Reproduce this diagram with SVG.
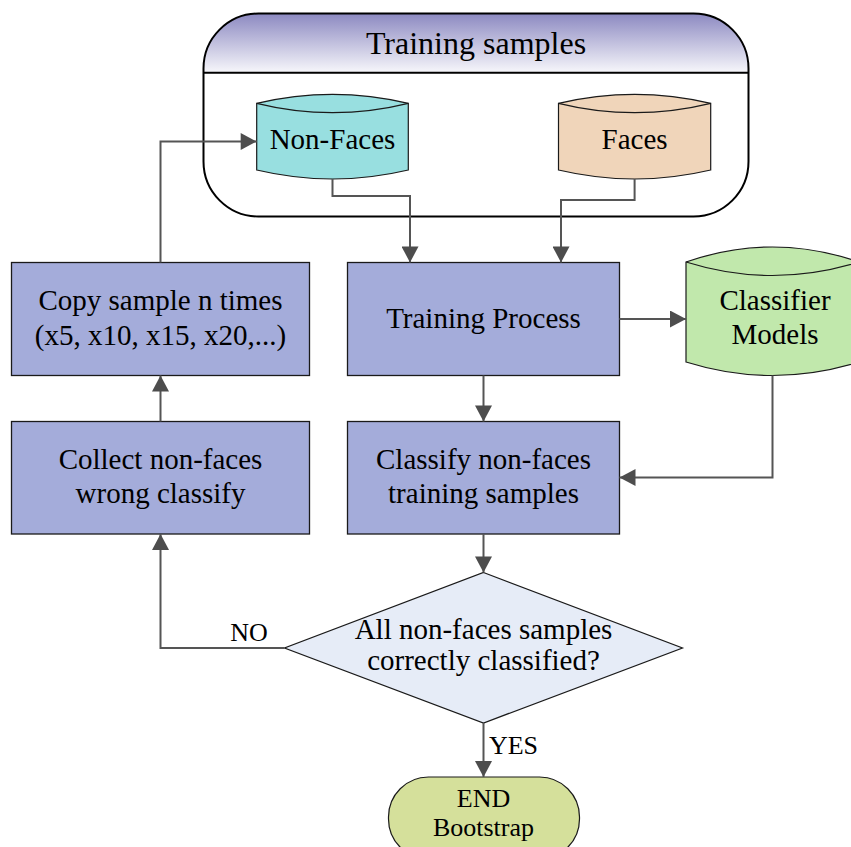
<svg xmlns="http://www.w3.org/2000/svg" width="851" height="847" viewBox="0 0 851 847">
<defs>
  <linearGradient id="hdr" x1="0" y1="0" x2="0" y2="1">
    <stop offset="0" stop-color="#8c89c1"/>
    <stop offset="1" stop-color="#f7f7fb"/>
  </linearGradient>
  <marker id="arr" markerUnits="userSpaceOnUse" markerWidth="17" markerHeight="17" viewBox="0 0 16 17" refX="16" refY="8.5" orient="auto">
    <path d="M0,0 L16,8.5 L0,17 Z" fill="#4d4d4d"/>
  </marker>
</defs>
<style>
  text { font-family: "Liberation Serif", "Times New Roman", serif; fill: #000; text-anchor: middle; }
  .t29 { font-size: 29px; }
  .t26 { font-size: 26px; }
  .box { fill: #a4acda; stroke: #1a1a1a; stroke-width: 1.3; }
  .shape { stroke: #1a1a1a; stroke-width: 1.2; }
  .edge { fill: none; stroke: #555555; stroke-width: 2; marker-end: url(#arr); }
</style>
<rect width="851" height="847" fill="#ffffff"/>

<g id="training-samples">
  <path d="M203.5,72.7 V68.5 A55,55 0 0 1 258.5,13.5 H693.5 A55,55 0 0 1 748.5,68.5 V72.7 Z" fill="url(#hdr)"/>
  <rect x="203.5" y="13.5" width="545" height="203" rx="55" ry="55" fill="none" stroke="#000" stroke-width="2"/>
  <line x1="203.5" y1="72.7" x2="748.5" y2="72.7" stroke="#000" stroke-width="2"/>
  <text x="476" y="54" style="font-size:32px">Training samples</text>
</g>

<g id="non-faces">
  <path class="shape" fill="#98dfe0" d="M256.7,103.3 Q332.5,85.3 408.3,103.3 V170 Q332.5,188 256.7,170 Z"/>
  <path class="shape" fill="none" d="M256.7,103.3 Q332.5,122 408.3,103.3"/>
  <text class="t29" x="332.5" y="149">Non-Faces</text>
</g>

<g id="faces">
  <path class="shape" fill="#f0d5ba" d="M558.5,103.3 Q634.6,85.3 710.7,103.3 V170 Q634.6,188 558.5,170 Z"/>
  <path class="shape" fill="none" d="M558.5,103.3 Q634.6,122 710.7,103.3"/>
  <text class="t29" x="634.6" y="149">Faces</text>
</g>

<g id="copy-sample">
  <rect class="box" x="11.5" y="262.5" width="298" height="113"/>
  <text class="t29" x="160.5" y="310">Copy sample n times</text>
  <text class="t29" x="160.5" y="345">(x5, x10, x15, x20,...)</text>
</g>

<g id="training-process">
  <rect class="box" x="347.5" y="262.5" width="272" height="113"/>
  <text class="t29" x="483.5" y="328">Training Process</text>
</g>

<g id="classifier-models">
  <path class="shape" fill="#c1e8ac" d="M686,262 Q772.5,232 859,262 V362 Q772.5,389 686,362 Z"/>
  <path class="shape" fill="none" d="M686,262 Q772.5,289 859,262"/>
  <text class="t29" x="775" y="310">Classifier</text>
  <text class="t29" x="775" y="344">Models</text>
</g>

<g id="collect-non-faces">
  <rect class="box" x="11.5" y="421.5" width="298" height="112.5"/>
  <text class="t29" x="160.5" y="469">Collect non-faces</text>
  <text class="t29" x="160.5" y="503">wrong classify</text>
</g>

<g id="classify-non-faces">
  <rect class="box" x="347.5" y="421.5" width="272" height="112.5"/>
  <text class="t29" x="483.5" y="469">Classify non-faces</text>
  <text class="t29" x="483.5" y="503">training samples</text>
</g>

<g id="decision">
  <path class="shape" fill="#e6ecf7" d="M483.5,572.5 L682.5,648 L483.5,723 L284.5,648 Z"/>
  <text class="t29" x="483.5" y="639">All non-faces samples</text>
  <text class="t29" x="483.5" y="670">correctly classified?</text>
</g>

<g id="end-bootstrap">
  <rect class="shape" fill="#d5e09b" x="388.5" y="777" width="191" height="82" rx="40" ry="40"/>
  <text class="t26" x="483.5" y="807">END</text>
  <text class="t26" x="483.5" y="836">Bootstrap</text>
</g>

<g id="connectors">
  <path class="edge" d="M332.5,179 V196 H410 V262.5"/>
  <path class="edge" d="M634.6,179 V200 H561 V262.5"/>
  <path class="edge" d="M619.5,319 H686"/>
  <path class="edge" d="M483.5,375.5 V421.5"/>
  <path class="edge" d="M772.5,375.5 V477.5 H619.5"/>
  <path class="edge" d="M483.5,534 V572.5"/>
  <path class="edge" d="M483.5,723 V777"/>
  <path class="edge" d="M284.5,648 H160.5 V534"/>
  <path class="edge" d="M160.5,421.5 V375.5"/>
  <path class="edge" d="M160.5,262.5 V141.5 H256.7"/>
  <text class="t26" x="249" y="641">NO</text>
  <text class="t26" x="513.5" y="754">YES</text>
</g>
</svg>
